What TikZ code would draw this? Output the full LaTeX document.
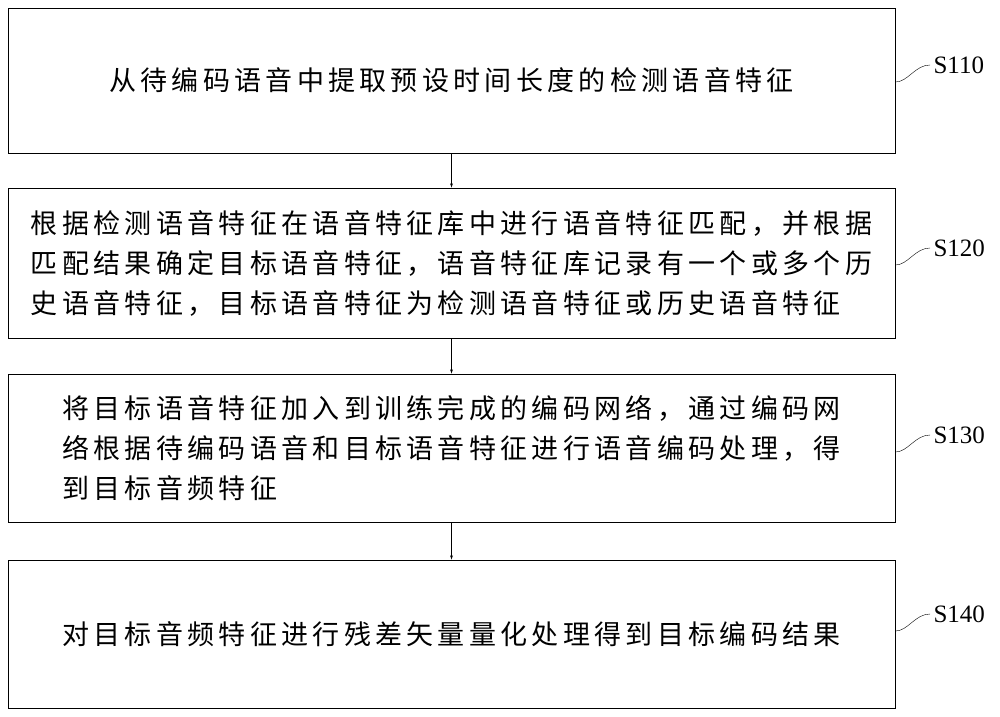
\documentclass[tikz,border=0pt]{standalone}
\usepackage{fontspec}
\newfontfamily\cjk[LetterSpace=16]{Noto Sans CJK SC}
\setmainfont{Liberation Serif}
\begin{document}
\begin{tikzpicture}[x=1pt,y=-1pt,
        stepbox/.style={draw, thick, minimum width=887pt, inner sep=0pt, font=\cjk\fontsize{27}{40}\selectfont},
        steplbl/.style={font=\fontsize{25}{30}\selectfont, anchor=west}]
        \useasboundingbox (0,0) rectangle (1000,716);

        \node[stepbox, minimum height=145pt] (s1) at (451.5,80.5) {从待编码语音中提取预设时间长度的检测语音特征};
        \node[stepbox, minimum height=150pt, align=left] (s2) at (451.5,263) {根据检测语音特征在语音特征库中进行语音特征匹配，并根据\\匹配结果确定目标语音特征，语音特征库记录有一个或多个历\\史语音特征，目标语音特征为检测语音特征或历史语音特征};
        \node[stepbox, minimum height=148pt, align=left] (s3) at (451.5,448) {将目标语音特征加入到训练完成的编码网络，通过编码网\\络根据待编码语音和目标语音特征进行语音编码处理，得\\到目标音频特征};
        \node[stepbox, minimum height=148pt] (s4) at (451.5,634) {对目标音频特征进行残差矢量量化处理得到目标编码结果};

        \draw[-latex] (s1) -- (s2);
        \draw[-latex] (s2) -- (s3);
        \draw[-latex] (s3) -- (s4);

        % step labels
        \foreach \n/\t/\y in {s1/S110/65, s2/S120/248, s3/S130/435, s4/S140/614} {
            \node[steplbl] (l\n) at (930,\y) {\t};
            \draw (\n.east |- 0,\y+17) .. controls (908,\y+17) and (915,\y) .. (l\n.west);
        }
\end{tikzpicture}
\end{document}
